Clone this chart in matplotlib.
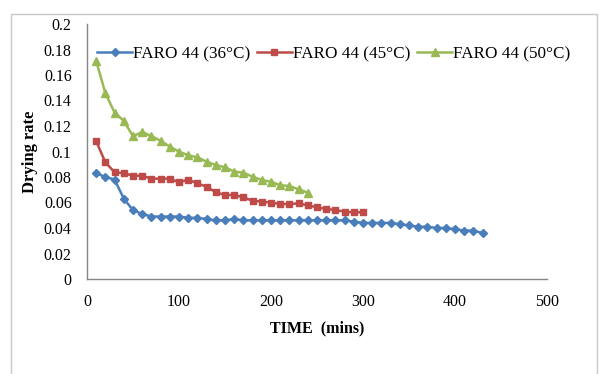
import matplotlib
matplotlib.use("Agg")
import matplotlib.pyplot as plt
from matplotlib.patches import Rectangle

plt.rcParams['font.family'] = ['Liberation Serif', 'DejaVu Serif']

time_36 = list(range(10, 440, 10))
rate_36 = [0.083, 0.080, 0.078, 0.063, 0.054, 0.051, 0.049, 0.049, 0.049, 0.049,
           0.048, 0.048, 0.047, 0.046, 0.046, 0.047, 0.046, 0.046, 0.046, 0.046,
           0.046, 0.046, 0.046, 0.046, 0.046, 0.046, 0.046, 0.046, 0.045, 0.044,
           0.044, 0.044, 0.044, 0.043, 0.042, 0.041, 0.041, 0.040, 0.040, 0.039,
           0.038, 0.038, 0.036]

time_45 = list(range(10, 310, 10))
rate_45 = [0.108, 0.0915, 0.0837, 0.083, 0.081, 0.081, 0.0787, 0.0787, 0.0787, 0.0758,
           0.0779, 0.075, 0.0724, 0.068, 0.0659, 0.0659, 0.064, 0.0614, 0.0607, 0.0599,
           0.0588, 0.0588, 0.0593, 0.0578, 0.0562, 0.0549, 0.0541, 0.0528, 0.0523, 0.0523]

time_50 = list(range(10, 250, 10))
rate_50 = [0.171, 0.1456, 0.1305, 0.124, 0.112, 0.1153, 0.112, 0.1085, 0.1038, 0.0999,
           0.097, 0.0954, 0.092, 0.0894, 0.0876, 0.0842, 0.0834, 0.0802, 0.0776, 0.0763,
           0.0735, 0.073, 0.0703, 0.0677]

labels = ["FARO 44 (36°C)", "FARO 44 (45°C)", "FARO 44 (50°C)"]
x_ticks = [0, 100, 200, 300, 400, 500]
y_ticks = [0, 0.02, 0.04, 0.06, 0.08, 0.1, 0.12, 0.14, 0.16, 0.18, 0.2]
y_tick_labels = ["0", "0.02", "0.04", "0.06", "0.08", "0.1", "0.12", "0.14", "0.16", "0.18", "0.2"]

fig = plt.figure(figsize=(5.99, 3.74), dpi=100)
fig.patch.set_facecolor('white')
fig.add_artist(Rectangle((11/599, -0.05), (597-11)/599, 1 - 14/374 + 0.05,
                         transform=fig.transFigure, fill=False,
                         edgecolor='#c8c8c8', linewidth=1.0))

ax = fig.add_axes([87/599, 1 - 279/374, (547-87)/599, (279-24)/374])
l1, = ax.plot(time_36, rate_36, color='#4A7EBB', marker='D', markersize=4,
              linewidth=1.8, label=labels[0])
l2, = ax.plot(time_45, rate_45, color='#BE4B48', marker='s', markersize=5,
              linewidth=1.8, label=labels[1])
l3, = ax.plot(time_50, rate_50, color='#98B954', marker='^', markersize=6,
              linewidth=1.8, label=labels[2])

ax.set_xlim(0, 500)
ax.set_ylim(0, 0.2)
ax.set_xticks(x_ticks)
ax.set_xticklabels([str(v) for v in x_ticks], fontsize=11.5)
ax.set_yticks(y_ticks)
ax.set_yticklabels(y_tick_labels, fontsize=11.5)
ax.tick_params(axis='both', length=0, pad=11, colors='black')
ax.tick_params(axis='y', pad=11)
for s in ['top', 'right']:
    ax.spines[s].set_visible(False)
for s in ['left', 'bottom']:
    ax.spines[s].set_color('#868686')
    ax.spines[s].set_linewidth(1.0)

ax.set_xlabel("TIME  (mins)", fontsize=11.5, fontweight='bold', labelpad=7)
ax.set_ylabel("Drying rate", fontsize=12, fontweight='bold', labelpad=4)

fig.legend(handles=[l1, l2, l3], labels=labels, loc='center',
           bbox_to_anchor=(334/599, 1 - 54/374), ncol=3, frameon=False,
           fontsize=12.3, handlelength=2.0, handletextpad=0.1, columnspacing=0.4,
           borderpad=0, borderaxespad=0)

fig.savefig("out.png", dpi=100, facecolor='white')
